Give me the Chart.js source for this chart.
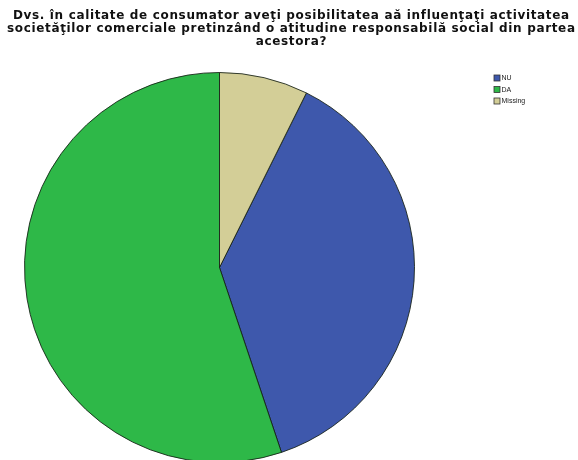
<!DOCTYPE html>
<html>
<head>
<meta charset="utf-8">
<script src="https://cdn.jsdelivr.net/npm/chart.js@4/dist/chart.umd.min.js"></script>
<style>
  html, body { margin: 0; padding: 0; background: #fff; overflow: hidden; }
  #pie { display: block; }
</style>
</head>
<body>
<canvas id="pie" width="578" height="480"></canvas>
<script>
// Answers to the survey question (counts)
const labels = ['NU', 'DA', 'Missing'];
const counts = [51, 75, 10];
const colors = ['#3E58AC', '#2EB848', '#D3CE97'];
const titleLines = [
    'Dvs. în calitate de consumator aveţi posibilitatea aă influenţaţi activitatea',
    'societăţilor comerciale pretinzând o atitudine responsabilă social din partea',
    'acestora?'
];

const total = counts.reduce((a, b) => a + b, 0);
// Missing slice ends at 12 o'clock, the others follow clockwise
const startAngle = counts[2] / total * 360;

// Title centred over the whole canvas, longest line about 568px wide
const spacedTitle = {
    id: 'spacedTitle',
    afterDraw(chart) {
        const ctx = chart.ctx;
        ctx.save();
        ctx.font = 'bold 12px "DejaVu Sans", sans-serif';
        ctx.fillStyle = '#111';
        ctx.textAlign = 'left';
        ctx.textBaseline = 'alphabetic';
        const base = ctx.measureText(titleLines[1]).width;
        const spacing = (568 - base) / (titleLines[1].length - 1);
        ctx.letterSpacing = spacing + 'px';
        titleLines.forEach((line, i) => {
            const w = ctx.measureText(line).width - spacing;
            ctx.fillText(line, 291 - w / 2, 19 + i * 13);
        });
        ctx.restore();
    }
};

// Small legend in the top right corner
const boxLegend = {
    id: 'boxLegend',
    afterDraw(chart) {
        const ctx = chart.ctx;
        ctx.save();
        ctx.font = '7px "Liberation Sans", Arial, sans-serif';
        ctx.textBaseline = 'middle';
        chart.data.labels.forEach((label, i) => {
            const y = 75 + i * 11.5;
            ctx.fillStyle = chart.data.datasets[0].backgroundColor[i];
            ctx.fillRect(494, y, 6, 6);
            ctx.strokeStyle = '#333';
            ctx.lineWidth = 0.8;
            ctx.strokeRect(494, y, 6, 6);
            ctx.fillStyle = '#222';
            ctx.fillText(label, 501.5, y + 3.2);
        });
        ctx.restore();
    }
};

const config = {
    type: 'pie',
    data: {
        labels: labels,
        datasets: [{
            data: counts,
            backgroundColor: colors,
            borderColor: 'rgba(20, 30, 20, 0.85)',
            borderWidth: 1
        }]
    },
    options: {
        responsive: false,
        animation: false,
        rotation: startAngle,
        layout: {
            padding: { left: 24, right: 163, bottom: 17, top: 72 }
        },
        plugins: {
            legend: { display: false },
            tooltip: { enabled: false },
            title: { display: false }
        }
    },
    plugins: [spacedTitle, boxLegend]
};

const pieChart = new Chart(document.getElementById('pie'), config);
</script>
</body>
</html>
